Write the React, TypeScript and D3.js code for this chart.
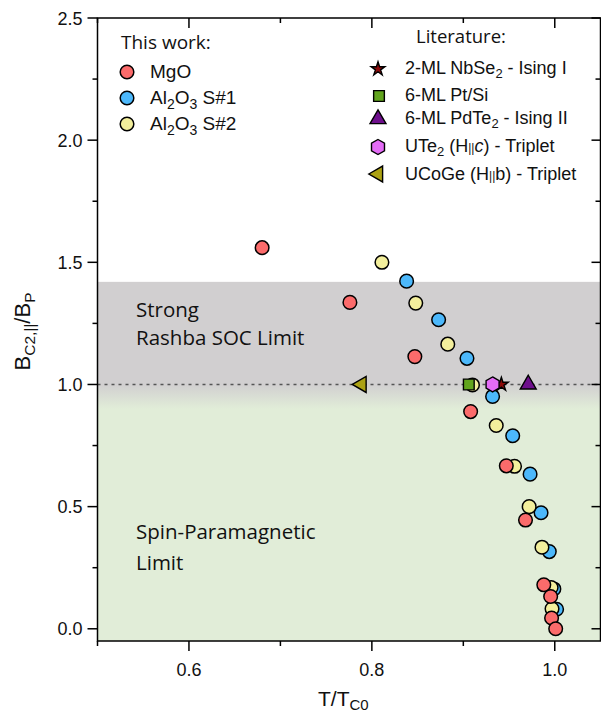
import React from "react";
import * as d3 from "d3";

// T/Tc0 and Bc2/Bp
const mgoT = [0.68, 0.776, 0.847, 0.908, 0.947, 0.968, 0.988, 0.9955, 0.9965, 1.001];
const mgoB = [1.56, 1.336, 1.114, 0.889, 0.667, 0.445, 0.18, 0.132, 0.044, 0.0];
const al1T = [0.838, 0.873, 0.904, 0.932, 0.954, 0.973, 0.985, 0.994, 0.999, 1.002];
const al1B = [1.423, 1.265, 1.107, 0.951, 0.79, 0.633, 0.475, 0.316, 0.163, 0.08];
const al2T = [0.811, 0.848, 0.883, 0.91, 0.936, 0.956, 0.972, 0.986, 0.996, 0.997];
const al2B = [1.5, 1.333, 1.165, 0.998, 0.832, 0.665, 0.5, 0.334, 0.169, 0.082];

// literature points
const litNames = ["NbSe2", "PtSi", "PdTe2", "UTe2", "UCoGe"];
const litT = [0.9416, 0.906, 0.971, 0.932, 0.7887];
const litB = [1.0, 1.0, 1.0, 1.0, 1.0];

const xMajor = [0.6, 0.8, 1.0];
const xMinor = [0.5, 0.7, 0.9];
const yMajor = [0, 0.5, 1.0, 1.5, 2.0, 2.5];
const yMinor = [0.25, 0.75, 1.25, 1.75, 2.25];

const W = 601;
const H = 715;

const x = d3.scaleLinear().domain([0.5, 1.05]).range([97.5, 600.5]);
const y = d3.scaleLinear().domain([-0.05, 2.5]).range([641, 18]);

const colors = {
  mgo: "#fb6b6b",
  al1: "#4cb8fb",
  al2: "#f3ef9c",
  star: "#8a0a0a",
  square: "#62a51e",
  tri: "#6e0f8c",
  hex: "#e46cf6",
  left: "#aca214",
};

const hexPath = (r: number) => {
  const pts: [number, number][] = d3.range(6).map((i) => {
    const a = (Math.PI / 3) * i - Math.PI / 2;
    return [r * Math.cos(a), r * Math.sin(a)];
  });
  return "M" + pts.map((p) => p.join(",")).join("L") + "Z";
};

const markerPath = (name: string) => {
  switch (name) {
    case "NbSe2":
      return d3.symbol(d3.symbolStar, 58)()!;
    case "PtSi":
      return d3.symbol(d3.symbolSquare, 115)()!;
    case "PdTe2":
      return d3.symbol(d3.symbolTriangle, 110)()!;
    case "UTe2":
      return hexPath(7.5);
    default:
      return d3.symbol(d3.symbolTriangle, 110)()!;
  }
};
const markerFill: Record<string, string> = {
  NbSe2: colors.star,
  PtSi: colors.square,
  PdTe2: colors.tri,
  UTe2: colors.hex,
  UCoGe: colors.left,
};
const markerRot: Record<string, number> = { UCoGe: -90, PdTe2: 0 };

const Marker = ({ name, cx, cy }: { name: string; cx: number; cy: number }) => (
  <path
    d={markerPath(name)}
    transform={`translate(${cx},${cy}) rotate(${markerRot[name] || 0})`}
    fill={markerFill[name]}
    stroke="#000"
    strokeWidth={1.4}
  />
);

const Dot = ({ cx, cy, fill }: { cx: number; cy: number; fill: string }) => (
  <circle cx={cx} cy={cy} r={6.8} fill={fill} stroke="#000" strokeWidth={1.5} />
);

const tickFont = "'Liberation Sans', Arial, sans-serif";
const noteFont = "'Open Sans', sans-serif";

export default function App() {
  const x0 = x(0.5);
  const x1 = x(1.05);
  const yTop = y(2.5);
  const yBot = y(-0.05);

  return (
    <svg
      width={W}
      height={H}
      style={{ position: "absolute", left: 0, top: 0, background: "#fff" }}
    >
      <defs>
        <linearGradient
          id="band"
          gradientUnits="userSpaceOnUse"
          x1={0}
          x2={0}
          y1={y(1.42)}
          y2={yBot}
        >
          <stop offset={0} stopColor="#d1cfd0" />
          <stop offset={(y(1.0) - y(1.42)) / (yBot - y(1.42))} stopColor="#d1cfd0" />
          <stop offset={(y(0.9) - y(1.42)) / (yBot - y(1.42))} stopColor="#e1edd8" />
          <stop offset={1} stopColor="#e1edd8" />
        </linearGradient>
      </defs>

      {/* shaded regions */}
      <rect x={x0} y={y(1.42)} width={x1 - x0} height={yBot - y(1.42)} fill="url(#band)" />

      {/* reference line */}
      <line
        x1={x0}
        x2={x1}
        y1={y(1)}
        y2={y(1)}
        stroke="#555"
        strokeWidth={1.4}
        strokeDasharray="3,4"
      />

      {/* region notes */}
      <g fontFamily={noteFont} fontSize={20.5} fill="#111">
        <text x={136} y={317}>Strong</text>
        <text x={136} y={345}>Rashba SOC Limit</text>
        <text x={136} y={539}>Spin-Paramagnetic</text>
        <text x={136} y={570}>Limit</text>
      </g>

      {/* data: blue, yellow, red */}
      {al1T.map((t, i) => (
        <Dot key={"b" + i} cx={x(t)} cy={y(al1B[i])} fill={colors.al1} />
      ))}
      {al2T.map((t, i) => (
        <Dot key={"y" + i} cx={x(t)} cy={y(al2B[i])} fill={colors.al2} />
      ))}
      {mgoT.map((t, i) => (
        <Dot key={"r" + i} cx={x(t)} cy={y(mgoB[i])} fill={colors.mgo} />
      ))}
      {litNames.map((n, i) => (
        <Marker key={n} name={n} cx={x(litT[i])} cy={y(litB[i])} />
      ))}

      {/* frame */}
      <rect
        x={x0}
        y={yTop}
        width={x1 - x0}
        height={yBot - yTop}
        fill="none"
        stroke="#000"
        strokeWidth={1.5}
      />

      {/* ticks */}
      <g stroke="#000" strokeWidth={1.5}>
        {xMajor.map((v) => (
          <g key={"xm" + v}>
            <line x1={x(v)} x2={x(v)} y1={yBot} y2={yBot + 10} />
            <line x1={x(v)} x2={x(v)} y1={yTop} y2={yTop + 10} />
          </g>
        ))}
        {xMinor.map((v) => (
          <g key={"xn" + v}>
            <line x1={x(v)} x2={x(v)} y1={yBot} y2={yBot + 5} />
            <line x1={x(v)} x2={x(v)} y1={yTop} y2={yTop + 5} />
          </g>
        ))}
        {yMajor.map((v) => (
          <g key={"ym" + v}>
            <line x1={x0} x2={x0 - 10} y1={y(v)} y2={y(v)} />
            <line x1={x1} x2={x1 - 9} y1={y(v)} y2={y(v)} />
          </g>
        ))}
        {yMinor.map((v) => (
          <g key={"yn" + v}>
            <line x1={x0} x2={x0 - 5} y1={y(v)} y2={y(v)} />
            <line x1={x1} x2={x1 - 5} y1={y(v)} y2={y(v)} />
          </g>
        ))}
      </g>

      {/* tick labels */}
      <g fontFamily={tickFont} fontSize={18} fill="#111">
        {xMajor.map((v) => (
          <text key={"xl" + v} x={x(v)} y={676} textAnchor="middle">
            {d3.format(".1f")(v)}
          </text>
        ))}
        {yMajor.map((v) => (
          <text key={"yl" + v} x={x0 - 15} y={y(v) + 6.5} textAnchor="end">
            {d3.format(".1f")(v)}
          </text>
        ))}
      </g>

      {/* axis titles */}
      <text x={318} y={706} fontFamily={tickFont} fontSize={21} fill="#111">
        T/T
        <tspan fontSize={15} dy={4}>C0</tspan>
      </text>
      <text
        transform={`translate(30,${(yTop + yBot) / 2 + 2}) rotate(-90)`}
        textAnchor="middle"
        fontFamily={tickFont}
        fontSize={22}
        fill="#111"
      >
        B
        <tspan fontSize={15.5} dy={5}>C2,||</tspan>
        <tspan dy={-5}>/B</tspan>
        <tspan fontSize={15.5} dy={5}>P</tspan>
      </text>

      {/* legend: this work */}
      <g fontFamily={tickFont} fill="#111">
        <text x={121} y={49} fontFamily={noteFont} fontSize={19}>This work:</text>
        <Dot cx={127} cy={72} fill={colors.mgo} />
        <Dot cx={127} cy={98} fill={colors.al1} />
        <Dot cx={127} cy={124} fill={colors.al2} />
        <text x={150} y={78} fontSize={19}>MgO</text>
        <text x={150} y={104} fontSize={19}>
          Al<tspan fontSize={14} dy={5}>2</tspan>
          <tspan dy={-5}>O</tspan>
          <tspan fontSize={14} dy={5}>3</tspan>
          <tspan dy={-5}> S#1</tspan>
        </text>
        <text x={150} y={130} fontSize={19}>
          Al<tspan fontSize={14} dy={5}>2</tspan>
          <tspan dy={-5}>O</tspan>
          <tspan fontSize={14} dy={5}>3</tspan>
          <tspan dy={-5}> S#2</tspan>
        </text>
      </g>

      {/* legend: literature */}
      <g fontFamily={tickFont} fontSize={18} fill="#111">
        <text x={416} y={43} fontFamily={noteFont} fontSize={18.5}>Literature:</text>
        <Marker name="NbSe2" cx={378} cy={69} />
        <Marker name="PtSi" cx={379} cy={96} />
        <Marker name="PdTe2" cx={378} cy={119} />
        <Marker name="UTe2" cx={378} cy={147} />
        <Marker name="UCoGe" cx={378} cy={174} />
        <text x={405} y={74}>
          2-ML NbSe<tspan fontSize={13} dy={4}>2</tspan>
          <tspan dy={-4}> - Ising I</tspan>
        </text>
        <text x={405} y={101}>6-ML Pt/Si</text>
        <text x={405} y={124}>
          6-ML PdTe<tspan fontSize={13} dy={4}>2</tspan>
          <tspan dy={-4}> - Ising II</tspan>
        </text>
        <text x={405} y={152}>
          UTe<tspan fontSize={13} dy={4}>2</tspan>
          <tspan dy={-4}> (H</tspan>
          <tspan fontSize={12}>||</tspan>
          <tspan fontStyle="italic">c</tspan>
          <tspan>)  - Triplet</tspan>
        </text>
        <text x={405} y={180}>
          UCoGe (H<tspan fontSize={12}>||</tspan>b) - Triplet
        </text>
      </g>
    </svg>
  );
}
